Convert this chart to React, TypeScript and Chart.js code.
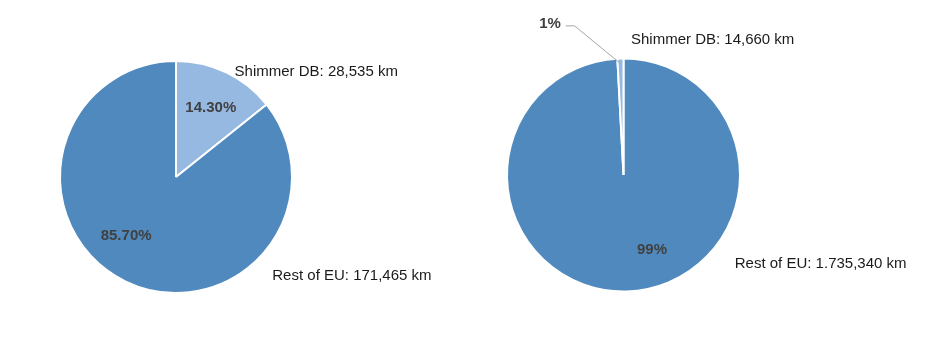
import React, { useEffect, useRef } from "react";
import { Chart, registerables } from "chart.js";

Chart.register(...registerables);

// ---- data ----
const leftCategories = ["Shimmer DB", "Rest of EU"];
const leftValues = [28535, 171465];
const leftValueText = ["28,535 km", "171,465 km"];
const leftPctText = ["14.30%", "85.70%"];

const rightCategories = ["Rest of EU", "Shimmer DB"];
const rightValues = [1735340, 14660];
const rightValueText = ["1.735,340 km", "14,660 km"];
const rightPctText = ["99%", "1%"];

const DARK = "#4F89BE";
const LIGHT = "#95B9E1";
const FONT = "'Liberation Sans', Arial, sans-serif";

type LabelSpec = {
  pct: { dx: number; dy: number; align: CanvasTextAlign; leader?: number[][] }[];
  cat: { dx: number; dy: number }[];
};

function makePlugin(cats: string[], valueText: string[], pctText: string[], spec: LabelSpec) {
  return {
    id: "pieLabels",
    afterDatasetsDraw(chart: any) {
      const arc = chart.getDatasetMeta(0).data[0];
      if (!arc) return;
      const { x: cx, y: cy, outerRadius: r } = arc;
      const ctx = chart.ctx as CanvasRenderingContext2D;
      ctx.save();
      ctx.textBaseline = "middle";
      cats.forEach((c, i) => {
        const p = spec.pct[i];
        if (p.leader) {
          ctx.strokeStyle = "#A6A6A6";
          ctx.lineWidth = 1;
          ctx.beginPath();
          p.leader.forEach(([lx, ly], k) => {
            const X = cx + lx * r, Y = cy + ly * r;
            if (k === 0) ctx.moveTo(X, Y); else ctx.lineTo(X, Y);
          });
          ctx.stroke();
        }
        ctx.font = `bold 15px ${FONT}`;
        ctx.fillStyle = "#404040";
        ctx.textAlign = p.align;
        ctx.fillText(pctText[i], cx + p.dx * r, cy + p.dy * r);
        const q = spec.cat[i];
        ctx.font = `15px ${FONT}`;
        ctx.fillStyle = "#1a1a1a";
        ctx.textAlign = "left";
        ctx.fillText(`${c}: ${valueText[i]}`, cx + q.dx * r, cy + q.dy * r);
      });
      ctx.restore();
    },
  };
}

function PieCanvas(props: {
  cats: string[];
  values: number[];
  colors: string[];
  valueText: string[];
  pctText: string[];
  spec: LabelSpec;
  padding: { left: number; right: number; top: number; bottom: number };
  style: React.CSSProperties;
}) {
  const ref = useRef<HTMLCanvasElement>(null);
  useEffect(() => {
    if (!ref.current) return;
    const chart = new Chart(ref.current, {
      type: "pie",
      data: {
        labels: props.cats,
        datasets: [
          {
            data: props.values,
            backgroundColor: props.colors,
            borderColor: "#ffffff",
            borderWidth: 2,
          },
        ],
      },
      options: {
        animation: false,
        responsive: false,
        maintainAspectRatio: false,
        layout: { padding: props.padding },
        plugins: { legend: { display: false }, tooltip: { enabled: false } },
      },
      plugins: [makePlugin(props.cats, props.valueText, props.pctText, props.spec)],
    });
    return () => chart.destroy();
  }, []);
  return (
    <canvas
      ref={ref}
      width={props.style.width as number}
      height={props.style.height as number}
      style={{ position: "absolute", ...props.style }}
    />
  );
}

const leftSpec: LabelSpec = {
  pct: [
    { dx: 0.3, dy: -0.6, align: "center" },
    { dx: -0.43, dy: 0.51, align: "center" },
  ],
  cat: [
    { dx: 0.505, dy: -0.91 },
    { dx: 0.83, dy: 0.85 },
  ],
};

const rightSpec: LabelSpec = {
  pct: [
    { dx: 0.245, dy: 0.64, align: "center" },
    {
      dx: -0.538,
      dy: -1.3,
      align: "right",
      leader: [
        [-0.496, -1.28],
        [-0.42, -1.28],
        [-0.03, -0.96],
      ],
    },
  ],
  cat: [
    { dx: 0.955, dy: 0.76 },
    { dx: 0.064, dy: -1.16 },
  ],
};

export default function App() {
  return (
    <div
      style={{
        position: "fixed",
        left: 0,
        top: 0,
        width: 945,
        height: 344,
        background: "#ffffff",
        overflow: "hidden",
      }}
    >
      <PieCanvas
        cats={leftCategories}
        values={leftValues}
        colors={[LIGHT, DARK]}
        valueText={leftValueText}
        pctText={leftPctText}
        spec={leftSpec}
        padding={{ left: 59, right: 179, top: 60, bottom: 50 }}
        style={{ left: 0, top: 0, width: 472, height: 344 }}
      />
      <PieCanvas
        cats={rightCategories}
        values={rightValues}
        colors={[DARK, LIGHT]}
        valueText={rightValueText}
        pctText={rightPctText}
        spec={rightSpec}
        padding={{ left: 34, right: 204, top: 57, bottom: 51 }}
        style={{ left: 472, top: 0, width: 473, height: 344 }}
      />
    </div>
  );
}
